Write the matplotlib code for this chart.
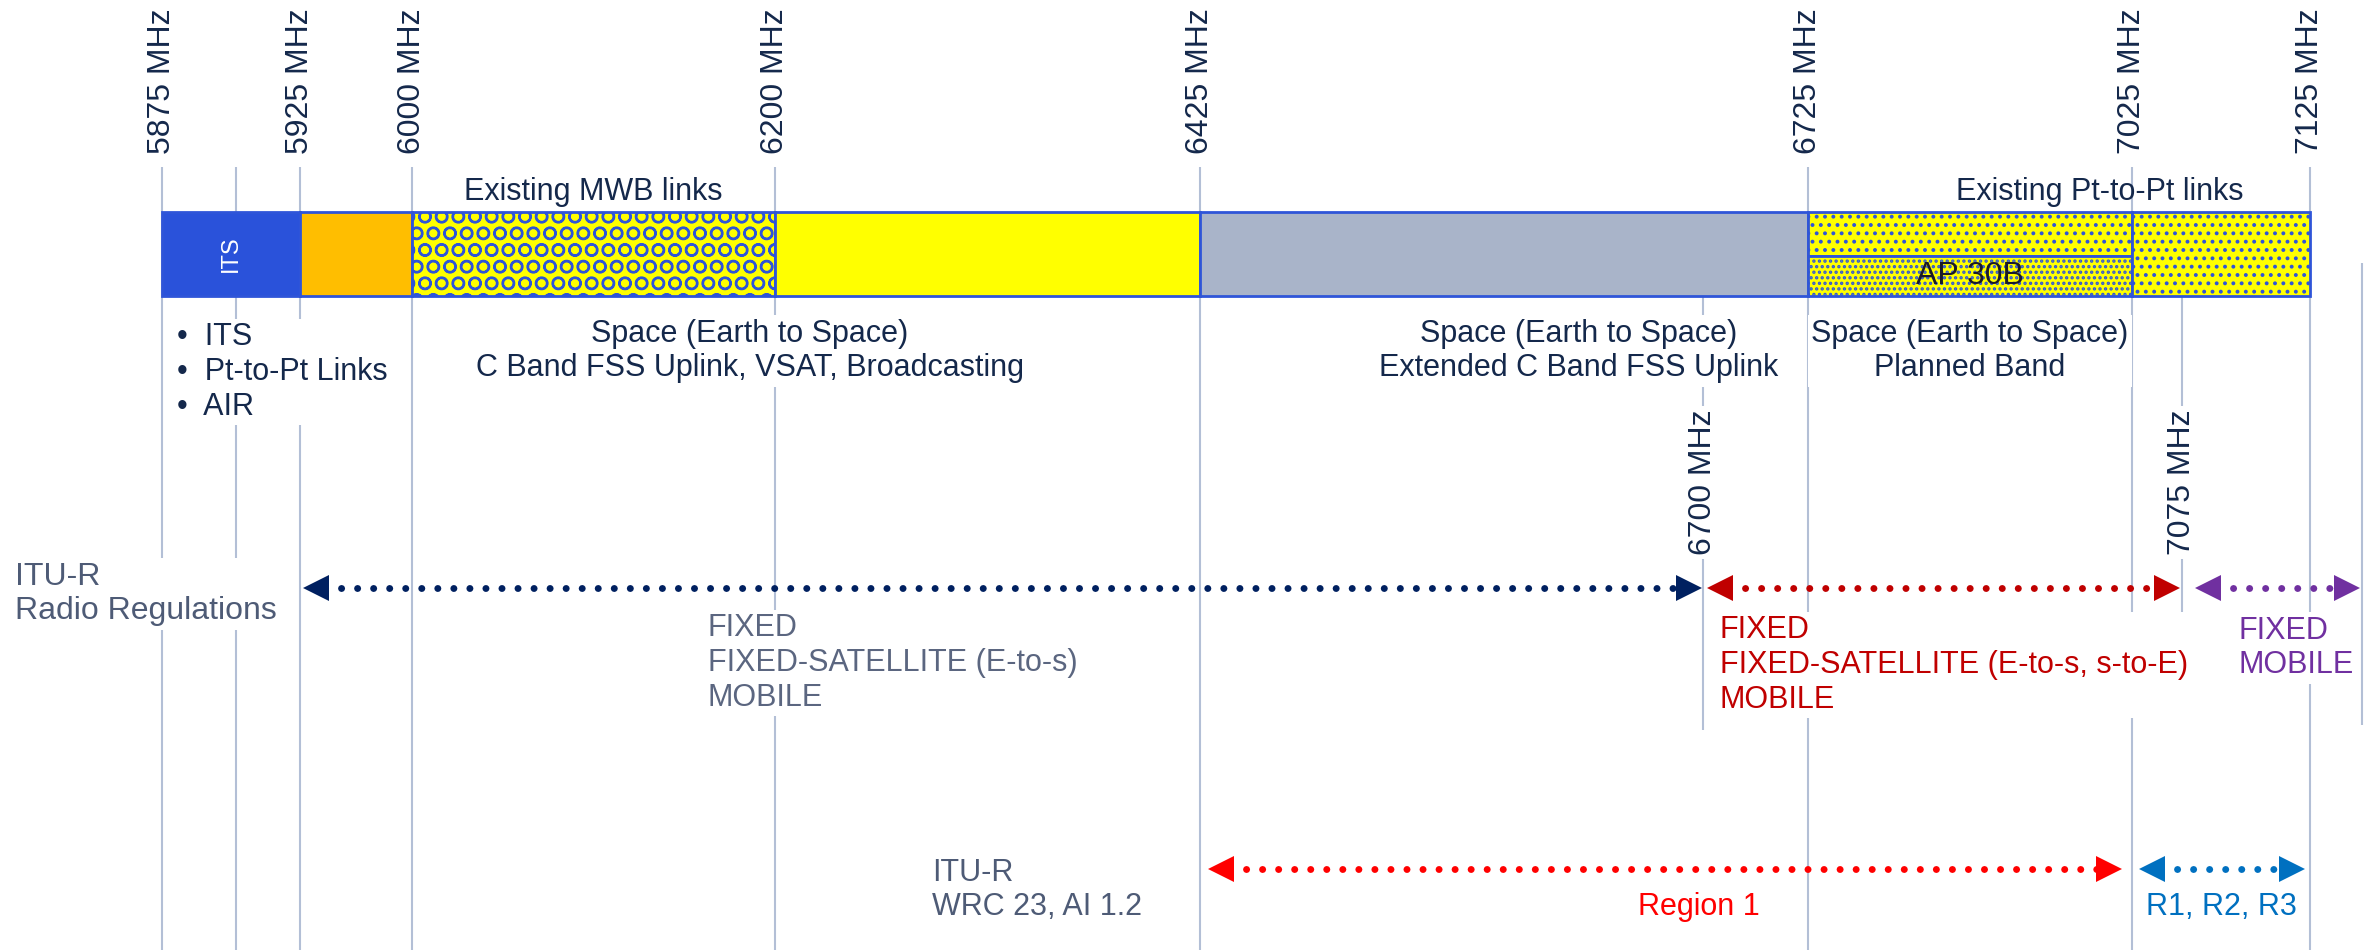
import numpy as np
import matplotlib.pyplot as plt
from matplotlib import transforms as mtransforms

plt.rcParams['font.family'] = ['Liberation Sans', 'DejaVu Sans']
plt.rcParams['hatch.linewidth'] = 1.6

# ---- data (MHz) ----------------------------------------------------
tick_mhz = [5875, 5925, 6000, 6200, 6425, 6725, 7025, 7125]
inner_tick_mhz = [6700, 7075]

band_start = [5875, 5925, 6000, 6200, 6425, 6725, 6725, 7025]
band_end = [5925, 6000, 6200, 6425, 6725, 7025, 7025, 7125]
band_row = ['full', 'full', 'full', 'full', 'full', 'top', 'bottom', 'full']

rr_start = [5925, 6700, 7075]
rr_end = [6700, 7075, 7150]
rr_labels = ['FIXED\nFIXED-SATELLITE (E-to-s)\nMOBILE',
             'FIXED\nFIXED-SATELLITE (E-to-s, s-to-E)\nMOBILE',
             'FIXED\nMOBILE']

wrc_start = [6425, 7025]
wrc_end = [7025, 7125]
wrc_labels = ['Region 1', 'R1, R2, R3']

# ---- schematic (non proportional) frequency axis -------------------
sched_mhz = [5300, 5875, 5900, 5925, 6000, 6200, 6425, 6700, 6725, 7025, 7075, 7125, 7150, 7700]
sched_px = [-1563, 162, 236, 300, 412, 775, 1200, 1703, 1808, 2132, 2182, 2310, 2362, 3462]

def fwd(f):
    return np.interp(f, sched_mhz, sched_px)

def inv(p):
    return np.interp(p, sched_px, sched_mhz)

def mid(a, b):
    return inv((fwd(a) + fwd(b)) / 2)

def shift(f, px):
    return inv(fwd(f) + px)

W, H = 2379, 950
fig = plt.figure(figsize=(W / 100, H / 100), dpi=100)
ax = fig.add_axes([0, 0, 1, 1])
ax.set_xscale('function', functions=(fwd, inv))
ax.set_xlim(inv(0), inv(W))
ax.set_ylim(H, 0)
ax.axis('off')

navy = '#14284B'
slate = '#4E5B76'
edge_blue = '#2F55D8'
grid_col = '#B3BFD6'
white_box = dict(boxstyle='square,pad=0.12', fc='white', ec='none')

# ---- vertical guide lines ------------------------------------------
full_lines = [5875, 5900, 5925, 6000, 6200, 6425, 6725, 7025, 7125]
ax.vlines(full_lines, 167, H, color=grid_col, lw=1.5, zorder=1)
ax.vlines([6700], 296, 730, color=grid_col, lw=1.5, zorder=1)
ax.vlines([7075], 296, 712, color=grid_col, lw=1.5, zorder=1)
ax.vlines([7150], 263, 725, color=grid_col, lw=1.5, zorder=1)

# ---- band bar --------------------------------------------------------
fills = ['#2A52DA', '#FFBE00', '#FFFF00', '#FFFF00', '#A9B4C9', '#FFFF00', '#FFFF00', '#FFFF00']
hatches = [None, None, 'O', None, None, '..', '...', '..']
rows = {'full': (212, 296), 'top': (212, 256), 'bottom': (256, 296)}
for s, e, r, fc, h in zip(band_start, band_end, band_row, fills, hatches):
    y0, y1 = rows[r]
    ax.barh((y0 + y1) / 2, e - s, left=s, height=y1 - y0, color=fc,
            edgecolor=edge_blue, linewidth=2, hatch=h, zorder=2)

ax.text(mid(5875, 5925), 254, 'ITS', rotation=90, color='white', fontsize=17,
        ha='center', va='center', zorder=3)
ax.text(mid(6725, 7025), 276, 'AP 30B', color='#1A1A2A', fontsize=23,
        ha='center', va='center', zorder=3)
ax.text(mid(6000, 6200), 192, 'Existing MWB links', color=navy, fontsize=22,
        ha='center', va='center')
ax.text(6995, 192, 'Existing Pt-to-Pt links', color=navy, fontsize=22,
        ha='center', va='center')

# ---- frequency labels ------------------------------------------------
for f in tick_mhz:
    ax.text(f, 154, f'{f} MHz', rotation=90, color=navy, fontsize=23,
            ha='center', va='bottom')
for f in inner_tick_mhz:
    ax.text(f, 555, f'{f} MHz', rotation=90, color=navy, fontsize=23,
            ha='center', va='bottom', bbox=white_box, zorder=3)

# ---- usage descriptions ----------------------------------------------
ax.text(5880, 372, '\u2022  ITS\n\u2022  Pt-to-Pt Links\n\u2022  AIR', color=navy,
        fontsize=22, ha='left', va='center', linespacing=1.2, bbox=white_box, zorder=3)
ax.text(mid(5925, 6425), 351, 'Space (Earth to Space)\nC Band FSS Uplink, VSAT, Broadcasting',
        color=navy, fontsize=22, ha='center', va='center', linespacing=1.2,
        bbox=white_box, zorder=3)
ax.text(6632, 351, 'Space (Earth to Space)\nExtended C Band FSS Uplink',
        color=navy, fontsize=22, ha='center', va='center', linespacing=1.2,
        bbox=white_box, zorder=3)
ax.text(mid(6725, 7025), 351, 'Space (Earth to Space)\nPlanned Band',
        color=navy, fontsize=22, ha='center', va='center', linespacing=1.2,
        bbox=white_box, zorder=3)

# ---- dotted double arrows --------------------------------------------
HEAD_PX = 26

def dotted_arrow(x0, x1, y, color, gap_l, gap_r):
    # tips sit gap_l / gap_r pixels inside the band edges
    ax.plot([shift(x0, gap_l + HEAD_PX - 4), shift(x1, -gap_r - HEAD_PX + 4)], [y, y],
            color=color, lw=5, linestyle=(0, (0.01, 2.3)),
            dash_capstyle='round', zorder=5)
    ms = HEAD_PX * 0.72
    ax.plot([shift(x0, gap_l + HEAD_PX / 2)], [y], marker='<', ms=ms, mew=0,
            color=color, zorder=6)
    ax.plot([shift(x1, -gap_r - HEAD_PX / 2)], [y], marker='>', ms=ms, mew=0,
            color=color, zorder=6)

trans_lbl = mtransforms.blended_transform_factory(ax.transAxes, ax.transData)
ax.text(15 / W, 594, 'ITU-R\nRadio Regulations', transform=trans_lbl, color=slate,
        fontsize=23, ha='left', va='center', linespacing=1.2, bbox=white_box, zorder=3)

rr_colors = ['#002060', '#C00000', '#7030A0']
rr_gaps = [(3, 1), (4, 2), (13, 2)]
rr_text_x = [6163, 6704, 7097]
rr_text_y = [663, 665, 648]
rr_text_col = ['#5B6680', '#C00000', '#7030A0']
for s, e, c, g, lbl, tx, ty, tc in zip(rr_start, rr_end, rr_colors, rr_gaps, rr_labels,
                                       rr_text_x, rr_text_y, rr_text_col):
    dotted_arrow(s, e, 588, c, *g)
    ax.text(tx, ty, lbl, color=tc, fontsize=22, ha='left', va='center',
            linespacing=1.2, bbox=white_box, zorder=3)

ax.text(6283, 890, 'ITU-R\nWRC 23, AI 1.2', color=slate, fontsize=22,
        ha='left', va='center', linespacing=1.2)

wrc_colors = ['#FF0000', '#0070C0']
wrc_gaps = [(8, 10), (7, 5)]
wrc_text_x = [6698, mid(7025, 7125)]
for s, e, c, g, lbl, tx in zip(wrc_start, wrc_end, wrc_colors, wrc_gaps, wrc_labels, wrc_text_x):
    dotted_arrow(s, e, 869, c, *g)
    ax.text(tx, 907, lbl, color=c, fontsize=22, ha='center', va='center')

fig.savefig('out.png', dpi=100, facecolor='white')
